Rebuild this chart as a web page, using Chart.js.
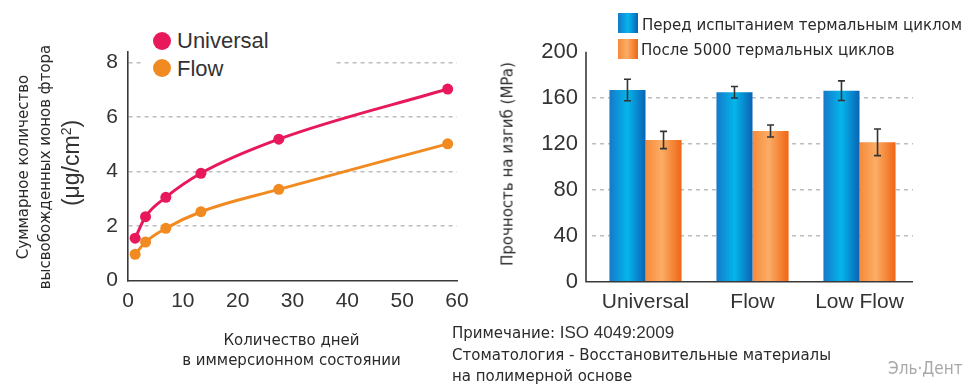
<!DOCTYPE html>
<html><head><meta charset="utf-8">
<script src="https://cdn.jsdelivr.net/npm/chart.js@4.4.1/dist/chart.umd.min.js"></script>
<style>
body{margin:0;background:#fff;width:975px;height:389px;overflow:hidden;position:relative;font-family:"DejaVu Sans",sans-serif;color:#2a2a2a}
canvas{position:absolute;top:0}
#c1{left:0}#c2{left:480px}
.t{position:absolute;white-space:nowrap;line-height:1}
.rot{transform:translate(-50%,-50%) rotate(-90deg)}
.ctr{transform:translate(-50%,-50%)}
.vc{transform:translateY(-50%)}
.lat{font-family:"Liberation Sans",Arial,sans-serif;color:#333}
</style></head><body>
<canvas id="c1" width="480" height="389"></canvas>
<canvas id="c2" width="495" height="389"></canvas>

<div class="t rot" style="left:23px;top:167px;font-size:15px">Суммарное количество</div>
<div class="t rot" style="left:45px;top:167px;font-size:15px">высвобожденных ионов фтора</div>
<div class="t rot lat" style="left:71px;top:163px;font-size:23px">(μg/cm<sup style="font-size:14px">2</sup>)</div>

<div class="t" style="left:142px;top:27px;width:193px;height:54px;background:#fff"></div>
<div class="t" style="left:152.7px;top:31.7px;width:18px;height:18px;border-radius:50%;background:#e8195b"></div>
<div class="t" style="left:152.7px;top:59.3px;width:18px;height:18px;border-radius:50%;background:#f28a22"></div>
<div class="t vc lat" style="left:177px;top:41px;font-size:22px">Universal</div>
<div class="t vc lat" style="left:177px;top:68.5px;font-size:22px">Flow</div>

<div class="t ctr" style="left:291.5px;top:340px;font-size:15px">Количество дней</div>
<div class="t ctr" style="left:291.5px;top:360px;font-size:15px">в иммерсионном состоянии</div>

<div class="t rot" style="left:508px;top:164px;font-size:15px">Прочность на изгиб (MPa)</div>

<div class="t" style="left:618px;top:13.3px;width:20px;height:20px;background:linear-gradient(90deg,#1579c9,#05b5ec 50%,#0a63b4)"></div>
<div class="t" style="left:618px;top:39.3px;width:20px;height:20px;background:linear-gradient(90deg,#f58a3a,#fbad66 45%,#ef6614)"></div>
<div class="t vc" style="left:642px;top:25px;font-size:15px">Перед испытанием термальным циклом</div>
<div class="t vc" style="left:641px;top:49.5px;font-size:15px">После 5000 термальных циклов</div>

<div class="t vc" style="left:452px;top:332px;font-size:15px">Примечание: <span class="lat" style="font-size:17px">ISO 4049:2009</span></div>
<div class="t vc" style="left:452px;top:355px;font-size:15px">Стоматология - Восстановительные материалы</div>
<div class="t vc" style="left:452px;top:376px;font-size:15px">на полимерной основе</div>
<div class="t vc" style="left:888px;top:368px;font-size:17px;font-family:'DejaVu Sans Condensed','DejaVu Sans';font-stretch:condensed;color:#a8a8a8">Эль·Дент</div>

<script>
// ---- Left chart data ----
const days = [1.3, 3.2, 6.9, 13.3, 27.5, 58.3];
const universalF = [1.56, 2.35, 3.06, 3.94, 5.19, 7.03];
const flowF = [0.97, 1.42, 1.92, 2.53, 3.35, 5.02];
const leftYTicks = [0, 2, 4, 6, 8];

// ---- Right chart data ----
const categories = ['Universal', 'Flow', 'Low Flow'];
const beforeVals = [166.7, 164.7, 166.1];
const beforeErr = [9.4, 5.0, 8.5];
const afterVals = [123.2, 131.0, 121.2];
const afterErr = [7.5, 5.2, 11.6];
const rightYTicks = [0, 40, 80, 120, 160, 200];
const seriesNames = ['Перед испытанием термальным циклом', 'После 5000 термальных циклов'];

const TICK_FONT = {family: '"Liberation Sans", Arial, sans-serif'};
const GRID_COL = '#bdbdbd';

new Chart(document.getElementById('c1'), {
  type: 'line',
  data: {
    datasets: [
      {label: 'Universal', data: days.map((d, i) => ({x: d, y: universalF[i]})),
       borderColor: '#e8195b', backgroundColor: '#e8195b', borderWidth: 3,
       pointRadius: 5.5, pointBorderWidth: 0, cubicInterpolationMode: 'monotone'},
      {label: 'Flow', data: days.map((d, i) => ({x: d, y: flowF[i]})),
       borderColor: '#f28a22', backgroundColor: '#f28a22', borderWidth: 3,
       pointRadius: 5.5, pointBorderWidth: 0, cubicInterpolationMode: 'monotone'}
    ]
  },
  options: {
    responsive: false, animation: false,
    layout: {padding: {left: 0, right: 23, top: 51.7, bottom: 68.3}},
    plugins: {legend: {display: false}, tooltip: {enabled: false}},
    scales: {
      x: {type: 'linear', min: 0, max: 60,
          ticks: {stepSize: 10, padding: 8, color: '#333', font: {...TICK_FONT, size: 21}},
          grid: {display: false, drawTicks: false},
          border: {display: true, color: '#3a3a3a', width: 1.6},
          afterFit: s => { s.height = 40; }},
      y: {min: 0, max: 8.4,
          afterBuildTicks: s => { s.ticks = leftYTicks.map(v => ({value: v})); },
          ticks: {padding: 10, color: '#333', font: {...TICK_FONT, size: 21}},
          grid: {drawTicks: false, lineWidth: 1.5,
                 color: c => (c.tick && c.tick.value === 0) ? 'rgba(0,0,0,0)' : GRID_COL},
          border: {display: true, color: '#3a3a3a', width: 1.6, dash: [4, 4]},
          afterFit: s => { s.width = 128; }}
    }
  }
});

const CAT_PCT = 0.674;
function barFill(stops) {
  return function (ctx) {
    const chart = ctx.chart, xs = chart.scales.x;
    if (!xs || ctx.type !== 'data' || !chart.chartArea) return stops[1][1];
    const step = xs.getPixelForValue(1) - xs.getPixelForValue(0);
    const bw = step * CAT_PCT / 2;
    const cx = xs.getPixelForValue(ctx.dataIndex);
    const left = cx - step * CAT_PCT / 2 + ctx.datasetIndex * bw;
    const g = chart.ctx.createLinearGradient(left, 0, left + bw, 0);
    stops.forEach(s => g.addColorStop(s[0], s[1]));
    return g;
  };
}
const blueStops = [[0, '#1579c9'], [0.5, '#05b5ec'], [1, '#0a63b4']];
const orangeStops = [[0, '#f58a3a'], [0.45, '#fbad66'], [1, '#ef6614']];

const errPlugin = {
  id: 'errbars',
  afterDatasetsDraw(chart) {
    const c = chart.ctx, ys = chart.scales.y;
    [beforeErr, afterErr].forEach((errs, d) => {
      const meta = chart.getDatasetMeta(d);
      meta.data.forEach((el, i) => {
        const v = chart.data.datasets[d].data[i];
        const yt = ys.getPixelForValue(v + errs[i]), yb = ys.getPixelForValue(v - errs[i]);
        c.save(); c.strokeStyle = '#333'; c.lineWidth = 1.6;
        c.beginPath();
        c.moveTo(el.x, yt); c.lineTo(el.x, yb);
        c.moveTo(el.x - 3.5, yt); c.lineTo(el.x + 3.5, yt);
        c.moveTo(el.x - 3.5, yb); c.lineTo(el.x + 3.5, yb);
        c.stroke(); c.restore();
      });
    });
  }
};
const axisPlugin = {
  id: 'axlines',
  afterDatasetsDraw(chart) {
    const c = chart.ctx, a = chart.chartArea;
    const x0 = a.left - 6;
    c.save(); c.strokeStyle = '#3a3a3a'; c.lineWidth = 1.6;
    c.beginPath();
    c.moveTo(x0, a.top); c.lineTo(x0, a.bottom);
    c.lineTo(a.right, a.bottom);
    c.stroke(); c.restore();
  }
};

new Chart(document.getElementById('c2'), {
  type: 'bar',
  data: {
    labels: categories,
    datasets: [
      {label: seriesNames[0], data: beforeVals, backgroundColor: barFill(blueStops),
       categoryPercentage: CAT_PCT, barPercentage: 1.0, borderWidth: 0},
      {label: seriesNames[1], data: afterVals, backgroundColor: barFill(orangeStops),
       categoryPercentage: CAT_PCT, barPercentage: 1.0, borderWidth: 0}
    ]
  },
  plugins: [errPlugin, axisPlugin],
  options: {
    responsive: false, animation: false,
    layout: {padding: {left: 0, right: 62, top: 51.7, bottom: 67.3}},
    plugins: {legend: {display: false}, tooltip: {enabled: false}},
    scales: {
      x: {ticks: {padding: 8, color: '#333', font: {...TICK_FONT, size: 21}},
          grid: {display: false, drawTicks: false},
          border: {display: false},
          afterFit: s => { s.height = 40; }},
      y: {min: 0, max: 200,
          afterBuildTicks: s => { s.ticks = rightYTicks.map(v => ({value: v})); },
          ticks: {padding: 14, color: '#333', font: {...TICK_FONT, size: 22}},
          grid: {drawTicks: false, lineWidth: 1.5,
                 color: c => (c.tick && (c.tick.value === 0 || c.tick.value === 200)) ? 'rgba(0,0,0,0)' : GRID_COL},
          border: {display: false, dash: [4, 4]},
          afterFit: s => { s.width = 112; }}
    }
  }
});
</script>
</body></html>
